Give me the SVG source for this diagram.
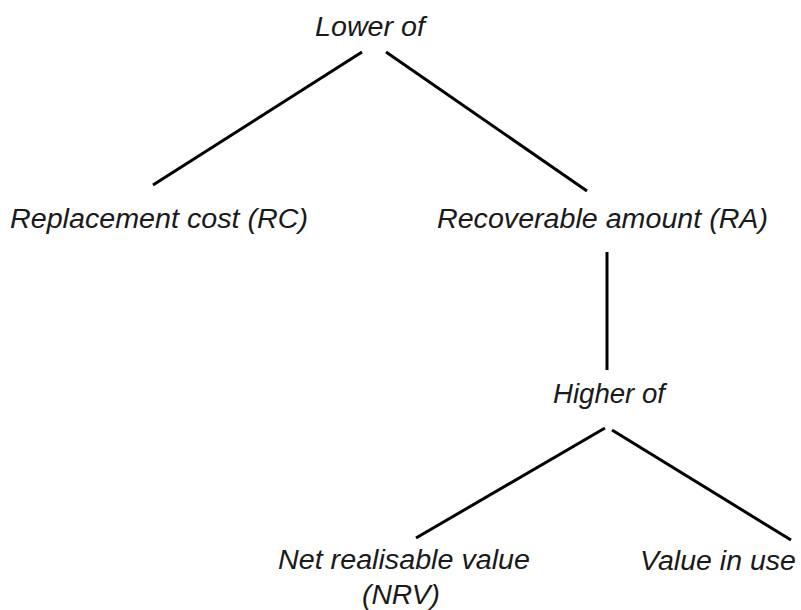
<svg xmlns="http://www.w3.org/2000/svg" width="801" height="610" viewBox="0 0 801 610">
<style>
text{font-family:"Liberation Sans",Arial,sans-serif;font-style:italic;font-size:27px;fill:#1a1a1a}
.c line{stroke:#000;stroke-width:3;stroke-linecap:butt}
</style>
<rect width="801" height="610" fill="#fff"/>
<g class="c" id="connectors">
<line x1="362" y1="52" x2="153" y2="185"/>
<line x1="386" y1="52" x2="587" y2="191"/>
<line x1="607" y1="252" x2="607" y2="370"/>
<line x1="605" y1="428" x2="416" y2="538"/>
<line x1="612" y1="430" x2="791" y2="540"/>
</g>
<g id="lower"><text x="315" y="36" textLength="110" lengthAdjust="spacingAndGlyphs">Lower of</text></g>
<g id="rc"><text x="10" y="228" textLength="298" lengthAdjust="spacingAndGlyphs">Replacement cost (RC)</text></g>
<g id="ra"><text x="437" y="228" textLength="331" lengthAdjust="spacingAndGlyphs">Recoverable amount (RA)</text></g>
<g id="higher"><text x="553" y="403" textLength="112" lengthAdjust="spacingAndGlyphs">Higher of</text></g>
<g id="nrv"><text x="278" y="569" textLength="252" lengthAdjust="spacingAndGlyphs">Net realisable value</text><text x="362" y="604" textLength="78" lengthAdjust="spacingAndGlyphs">(NRV)</text></g>
<g id="viu"><text x="640" y="570" textLength="156" lengthAdjust="spacingAndGlyphs">Value in use</text></g>
</svg>
